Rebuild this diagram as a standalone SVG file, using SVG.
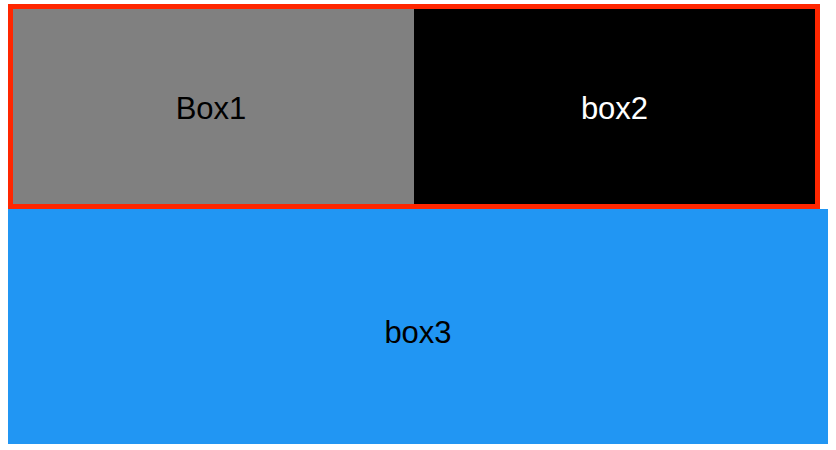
<svg xmlns="http://www.w3.org/2000/svg" width="836" height="450" viewBox="0 0 836 450">
  <style>
    .lbl { font-family: "Liberation Sans", Arial, Helvetica, sans-serif; font-size: 31px; text-anchor: middle; }
  </style>
  <rect x="0" y="0" width="836" height="450" fill="#ffffff"/>
  <g id="box3">
    <rect x="8" y="209" width="820" height="235" fill="#2196F3"/>
    <text class="lbl" x="418" y="343" fill="#000000">box3</text>
  </g>
  <g id="container">
    <rect x="10.5" y="6.5" width="807" height="200" fill="none" stroke="#FF2600" stroke-width="5"/>
  </g>
  <g id="box1">
    <rect x="13" y="9" width="401" height="195" fill="#808080"/>
    <text class="lbl" x="211" y="119" fill="#000000">Box1</text>
  </g>
  <g id="box2">
    <rect x="414" y="9" width="401" height="195" fill="#000000"/>
    <text class="lbl" x="614.5" y="119" fill="#ffffff">box2</text>
  </g>
  <g id="connectors"></g>
</svg>
